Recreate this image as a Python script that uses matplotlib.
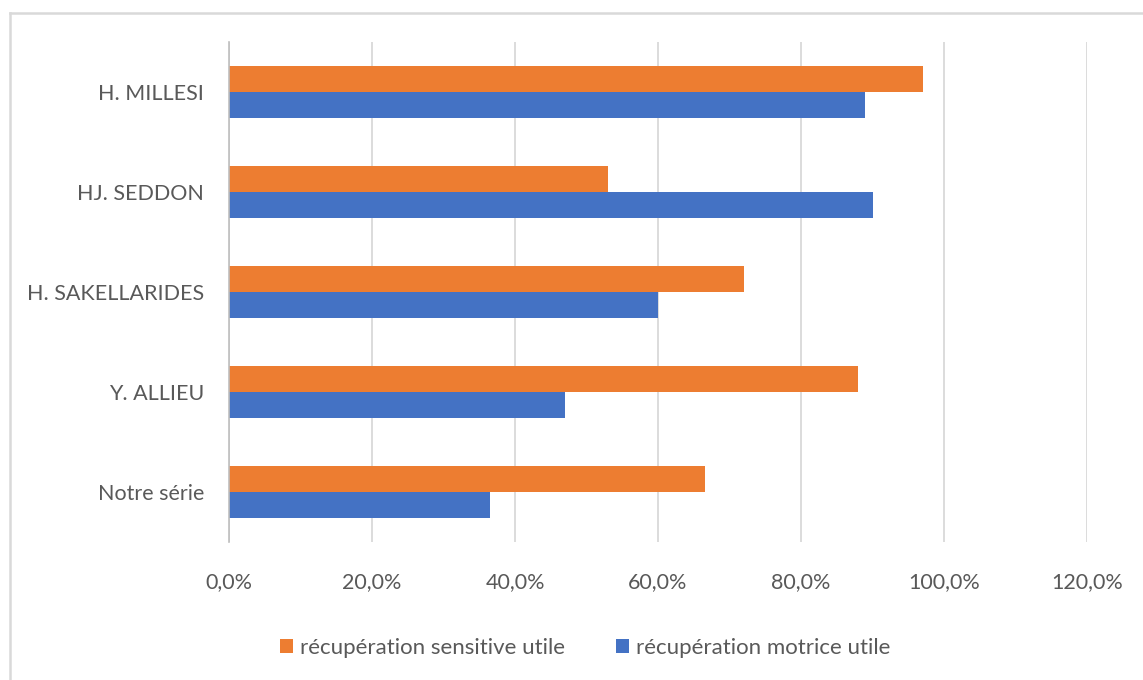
import matplotlib

matplotlib.use("Agg")
import matplotlib.pyplot as plt  # noqa: E402
import numpy as np  # noqa: E402
from matplotlib.lines import Line2D  # noqa: E402
from matplotlib.ticker import FuncFormatter  # noqa: E402

# categories listed top to bottom as in the chart
categories = ["H. MILLESI", "HJ. SEDDON", "H. SAKELLARIDES", "Y. ALLIEU", "Notre série"]
sensitive = [0.97, 0.53, 0.72, 0.88, 0.666]
motrice = [0.89, 0.90, 0.60, 0.47, 0.365]
x_ticks = [0.0, 0.2, 0.4, 0.6, 0.8, 1.0, 1.2]

ORANGE = "#ED7D31"
BLUE = "#4472C4"
TEXT = "#595959"
GRID = "#D9D9D9"

plt.rcParams["font.family"] = ["Lato", "DejaVu Sans"]

fig = plt.figure(figsize=(11.43, 6.8), dpi=100)
ax = fig.add_axes([229 / 1143, 1 - 542 / 680, (1087 - 229) / 1143, 500 / 680])

# outer chart border (only left and top edges are visible, the rest is cropped)
bx, by = 9.5 / 1143, 1 - 13 / 680
fig.lines.append(Line2D([bx, bx], [0, by], transform=fig.transFigure, color=GRID, linewidth=1.8))
fig.lines.append(Line2D([bx, 1], [by, by], transform=fig.transFigure, color=GRID, linewidth=1.8))

y = np.arange(len(categories))
h = 0.26
ax.barh(y - h / 2, sensitive, height=h, color=ORANGE, label="récupération sensitive utile")
ax.barh(y + h / 2, motrice, height=h, color=BLUE, label="récupération motrice utile")

ax.set_ylim(len(categories) - 0.5, -0.5)
ax.set_xlim(0, 1.2)
ax.set_yticks(y)
ax.set_yticklabels(categories)
ax.set_xticks(x_ticks)
ax.xaxis.set_major_formatter(FuncFormatter(lambda v, _: f"{v * 100:.1f}%".replace(".", ",")))

ax.grid(axis="x", color=GRID, linewidth=1.3)
ax.set_axisbelow(True)
for s in ["top", "right", "bottom"]:
    ax.spines[s].set_visible(False)
ax.spines["left"].set_color("#BFBFBF")
ax.spines["left"].set_linewidth(1.2)
ax.tick_params(axis="both", length=0, labelsize=15.5, colors=TEXT)
ax.tick_params(axis="x", pad=22)
ax.tick_params(axis="y", pad=18)

ax.legend(loc="center", bbox_to_anchor=(585 / 1143, 1 - 648 / 680), bbox_transform=fig.transFigure,
          ncol=2, frameon=False, fontsize=16, labelcolor=TEXT, handlelength=0.6, handleheight=0.6,
          handletextpad=0.3, columnspacing=2.3)

fig.savefig("out.png", dpi=100)
